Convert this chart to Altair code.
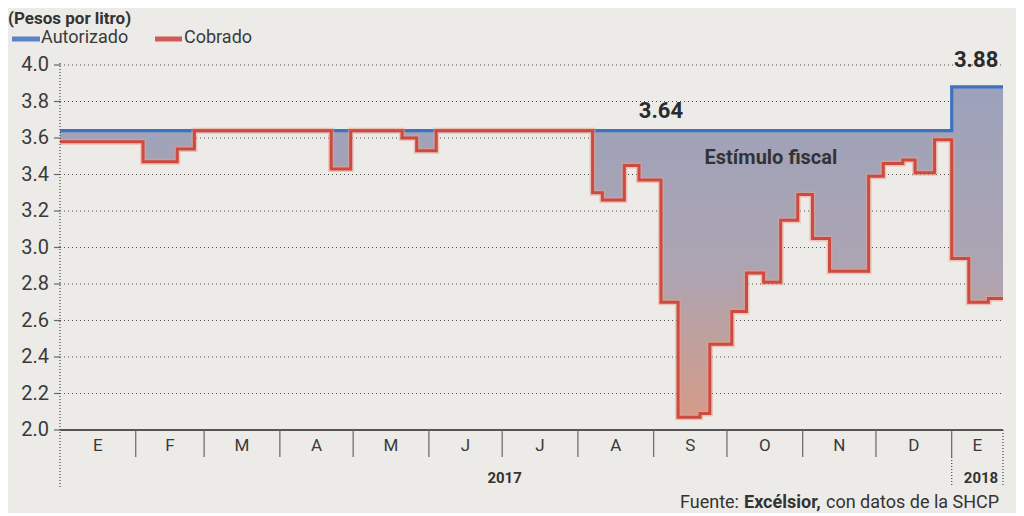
import altair as alt
import pandas as pd

# ---------------- data ----------------
red_dates = ["2017-01-01", "2017-02-04", "2017-02-18", "2017-02-25", "2017-04-22", "2017-04-30",
             "2017-05-21", "2017-05-27", "2017-06-04", "2017-08-07", "2017-08-11", "2017-08-20",
             "2017-08-26", "2017-09-04", "2017-09-11", "2017-09-20", "2017-09-24", "2017-10-03",
             "2017-10-09", "2017-10-16", "2017-10-23", "2017-10-30", "2017-11-05", "2017-11-12",
             "2017-11-28", "2017-12-04", "2017-12-12", "2017-12-17", "2017-12-25", "2018-01-01",
             "2018-01-08", "2018-01-16", "2018-01-22"]
red_values = [3.58, 3.47, 3.54, 3.64, 3.43, 3.64,
              3.60, 3.53, 3.64, 3.30, 3.26, 3.45,
              3.37, 2.70, 2.07, 2.09, 2.47, 2.65,
              2.86, 2.81, 3.15, 3.29, 3.05, 2.87,
              3.39, 3.46, 3.48, 3.41, 3.59, 2.94,
              2.70, 2.72, 2.72]
blue_dates = ["2017-01-01", "2018-01-01", "2018-01-22"]
blue_values = [3.64, 3.88, 3.88]

month_letters = ["E", "F", "M", "A", "M", "J", "J", "A", "S", "O", "N", "D", "E"]
month_starts = ["2017-01-01", "2017-02-01", "2017-03-01", "2017-04-01", "2017-05-01", "2017-06-01",
                "2017-07-01", "2017-08-01", "2017-09-01", "2017-10-01", "2017-11-01", "2017-12-01",
                "2018-01-01"]
period_end = "2018-01-22"
year_labels = ["2017", "2018"]
year_centers = ["2017-07-02", "2018-01-13"]
y_ticks = [2.0, 2.2, 2.4, 2.6, 2.8, 3.0, 3.2, 3.4, 3.6, 3.8, 4.0]

ORIGIN = pd.Timestamp("2017-01-01")


def day(d):
    return (pd.Timestamp(d) - ORIGIN).days


END = day(period_end)

red_df = pd.DataFrame({"d": [day(d) for d in red_dates], "v": red_values})
blue_df = pd.DataFrame({"d": [day(d) for d in blue_dates], "v": blue_values})

# combined table for the filled gap between the two series
pts = sorted(set(red_df["d"]) | set(blue_df["d"]))
def value_at(df, x):
    return df[df["d"] <= x]["v"].iloc[-1]
area_df = pd.DataFrame({"d": pts,
                        "aut": [value_at(blue_df, x) for x in pts],
                        "cob": [value_at(red_df, x) for x in pts]})

starts_d = [day(d) for d in month_starts]
mid_d = []
for i, s in enumerate(starts_d):
    e = starts_d[i + 1] if i + 1 < len(starts_d) else END
    mid_d.append((s + e) / 2)
months_df = pd.DataFrame({"d": mid_d, "t": month_letters})
seps_df = pd.DataFrame({"d": starts_d[1:]})
years_df = pd.DataFrame({"d": [day(d) for d in year_centers], "t": year_labels})
ticks_df = pd.DataFrame({"v": y_ticks, "t": [f"{t:.1f}" for t in y_ticks]})

# ---------------- layout ----------------
W, H = 943, 365
FONT = "Roboto"
BLUE = "#3f71c0"
RED = "#cc4a3f"
INK = "#3a3a3a"

xs = alt.Scale(domain=[0, END], nice=False, zero=False)
ys = alt.Scale(domain=[2.0, 4.0], nice=False, zero=False)
X = lambda f="d": alt.X(f + ":Q", scale=xs, axis=None)
Y = lambda f="v": alt.Y(f + ":Q", scale=ys, axis=None)

gradient = alt.Gradient(
    gradient="linear",
    stops=[alt.GradientStop(color="#9ca2bb", offset=0),
           alt.GradientStop(color="#aca4b2", offset=0.55),
           alt.GradientStop(color="#d59b88", offset=1)],
    x1=0, x2=0, y1=0, y2=1)

one = alt.Data(values=[{}])


def txt(text, x, y, **kw):
    return alt.Chart(one).mark_text(text=text, **kw).encode(x=alt.value(x), y=alt.value(y))


def prule(x, x2, y, y2, **kw):
    return alt.Chart(one).mark_rule(**kw).encode(
        x=alt.value(x), x2=alt.value(x2), y=alt.value(y), y2=alt.value(y2))


# y axis: dotted grid, small ticks and labels
grid = alt.Chart(ticks_df[ticks_df["v"] > 2.0]).mark_rule(
    color="#4a4a4a", strokeDash=[1, 3], strokeWidth=1.2).encode(
    y=Y(), x=alt.value(0), x2=alt.value(W))
ticks = alt.Chart(ticks_df).mark_rule(color="#666", strokeWidth=1.2).encode(
    y=Y(), x=alt.value(-6), x2=alt.value(0))
tick_labels = alt.Chart(ticks_df).mark_text(
    font=FONT, fontSize=20, color=INK, align="right", baseline="middle").encode(
    y=Y(), x=alt.value(-11), text="t:N")

area = alt.Chart(area_df).mark_area(interpolate="step-after", color=gradient).encode(
    x=X(), y=Y("aut"), y2="cob:Q")

blue_line = alt.Chart(blue_df).mark_line(interpolate="step-after", color=BLUE, strokeWidth=3.2).encode(
    x=X(), y=Y())
red_halo = alt.Chart(red_df).mark_line(interpolate="step-after", color="#e9a18f", opacity=0.55,
                                       strokeWidth=6).encode(x=X(), y=Y())
red_line = alt.Chart(red_df).mark_line(interpolate="step-after", color=RED, strokeWidth=3).encode(
    x=X(), y=Y())

# x axis decorations
y_axis_line = prule(0, 0, -2, H + 57, color="#555", strokeDash=[1, 2], strokeWidth=1.3)
x_axis_line = prule(0, W, H, H, color="#555", strokeWidth=2)
seps = alt.Chart(seps_df).mark_rule(color="#666", strokeWidth=1.2).encode(
    x=X(), y=alt.value(H), y2=alt.value(H + 27))
end_rule = prule(W, W, H, H + 55, color="#555", strokeDash=[1, 2], strokeWidth=1.3)
jan_rule = alt.Chart(pd.DataFrame({"d": [day("2018-01-01")]})).mark_rule(
    color="#555", strokeDash=[1, 2], strokeWidth=1.3).encode(
    x=X(), y=alt.value(H + 27), y2=alt.value(H + 55))

months = alt.Chart(months_df).mark_text(font=FONT, fontSize=17, color=INK, baseline="middle").encode(
    x=X(), y=alt.value(H + 16), text="t:N")
years = alt.Chart(years_df).mark_text(font=FONT, fontSize=15, fontWeight="bold", color="#333",
                                      baseline="middle").encode(
    x=X(), y=alt.value(H + 48), text="t:N")

# annotations in data space
ann_df = pd.DataFrame({"d": [246, 375, 291], "v": [3.75, 4.03, 3.49],
                       "t": ["3.64", "3.88", "Estímulo fiscal"]})
ann_nums = alt.Chart(ann_df.iloc[:2]).mark_text(font=FONT, fontSize=22, fontWeight="bold",
                                                 color="#2b2b2b", baseline="middle").encode(
    x=X(), y=Y(), text="t:N")
ann_est = alt.Chart(ann_df.iloc[2:]).mark_text(font=FONT, fontSize=20, fontWeight="bold",
                                                color="#333", baseline="middle").encode(
    x=X(), y=Y(), text="t:N")

# title and legend
title = txt("(Pesos por litro)", -52, -46, font=FONT, fontSize=17, fontWeight="bold",
            color="#333", align="left", baseline="middle")
leg_b = prule(-48, -20, -26, -26, color="#5a82c8", strokeWidth=5)
leg_bt = txt("Autorizado", -19, -27, font=FONT, fontSize=18, color=INK, align="left", baseline="middle")
leg_r = prule(95, 122, -26, -26, color="#d05a55", strokeWidth=5)
leg_rt = txt("Cobrado", 124, -27, font=FONT, fontSize=18, color=INK, align="left", baseline="middle")

# source
src1 = txt("Fuente:", 620, H + 73, font=FONT, fontSize=18, color="#333", align="left", baseline="middle")
src2 = txt("Excélsior,", 684, H + 73, font=FONT, fontSize=18, fontWeight="bold", color="#333",
           align="left", baseline="middle")
src3 = txt("con datos de la SHCP", 766, H + 73, font=FONT, fontSize=18, color="#333",
           align="left", baseline="middle")

chart = alt.layer(
    grid, ticks, tick_labels,
    area, blue_line, red_halo, red_line,
    y_axis_line, x_axis_line, seps, end_rule, jan_rule,
    months, years, ann_nums, ann_est,
    title, leg_b, leg_bt, leg_r, leg_rt,
    src1, src2, src3,
).properties(
    width=W, height=H,
    padding={"left": 52, "top": 57, "right": 13, "bottom": 83},
    autosize=alt.AutoSizeParams(type="none"),
    background="#ecebe8",
).configure_view(stroke=None)

chart.save("out.html", embed_options={"renderer": "svg", "actions": False})
